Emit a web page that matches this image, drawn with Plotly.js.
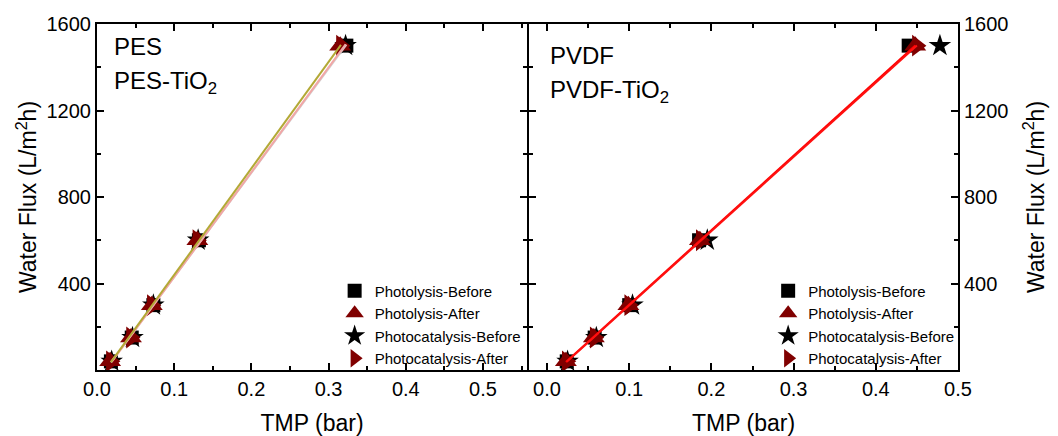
<!DOCTYPE html>
<html><head><meta charset="utf-8">
<script src="https://cdn.plot.ly/plotly-3.0.1.min.js"></script>
<style>html,body{margin:0;padding:0;background:#fff}#chart{width:1058px;height:436px}</style>
</head><body><div id="chart"></div>
<script>
// ---- data ----
const seriesNames = ['Photolysis-Before', 'Photolysis-After', 'Photocatalysis-Before', 'Photocatalysis-After'];
const waterFlux = [40, 150, 300, 600, 1500];            // L/m2h
// PES membranes: TMP (bar)
const pesPhotolysisBefore     = [0.018, 0.045, 0.073, 0.132, 0.323];
const pesPhotolysisAfter      = [0.017, 0.044, 0.071, 0.130, 0.315];
const pesPhotocatalysisBefore = [0.019, 0.046, 0.073, 0.131, 0.322];
const pesPhotocatalysisAfter  = [0.018, 0.044, 0.071, 0.130, 0.316];
// PVDF membranes: TMP (bar)
const pvdfPhotolysisBefore     = [0.024, 0.058, 0.100, 0.185, 0.440];
const pvdfPhotolysisAfter      = [0.023, 0.057, 0.099, 0.186, 0.448];
const pvdfPhotocatalysisBefore = [0.025, 0.060, 0.104, 0.195, 0.478];
const pvdfPhotocatalysisAfter  = [0.024, 0.058, 0.100, 0.187, 0.450];
const xTickVals = [0, 0.1, 0.2, 0.3, 0.4, 0.5];
const xTickText = ['0.0', '0.1', '0.2', '0.3', '0.4', '0.5'];
const yTickVals = [0, 400, 800, 1200, 1600];
const yTickText = ['', '400', '800', '1200', '1600'];

// ---- styling ----
const FONT = 'Arial, "Liberation Sans", sans-serif';
const DARKRED = '#800000';
const markerStyles = [
  {symbol: 'square', color: '#000000', size: 14},
  {symbol: 'triangle-up', color: DARKRED, size: 19},
  {symbol: 'star', color: '#000000', size: 17},
  {symbol: 'triangle-right', color: DARKRED, size: 19}
];
const drawOrder = [0, 2, 1, 3];

function linFit(xs, ys) {
  const n = xs.length;
  const mx = xs.reduce((a, b) => a + b, 0) / n;
  const my = ys.reduce((a, b) => a + b, 0) / n;
  let sxy = 0, sxx = 0;
  for (let i = 0; i < n; i++) { sxy += (xs[i] - mx) * (ys[i] - my); sxx += (xs[i] - mx) * (xs[i] - mx); }
  const b = sxy / sxx, a = my - b * mx;
  const x0 = Math.min(...xs), x1 = Math.max(...xs);
  return {x: [x0, x1], y: [a + b * x0, a + b * x1]};
}

const traces = [];
function addPanel(sets, xa, ya, legendId, fitSpec) {
  drawOrder.forEach(i => {
    const m = markerStyles[i];
    traces.push({
      type: 'scatter', mode: 'markers', name: seriesNames[i],
      x: sets[i], y: waterFlux, xaxis: xa, yaxis: ya,
      legend: legendId, legendrank: i + 1,
      marker: {symbol: m.symbol, color: m.color, size: m.size, line: {width: 0}}
    });
  });
  fitSpec.forEach(f => {
    const fl = linFit(sets[f.idx], waterFlux);
    traces.push({
      type: 'scatter', mode: 'lines', x: fl.x, y: fl.y, xaxis: xa, yaxis: ya,
      showlegend: false, hoverinfo: 'skip',
      line: {color: f.color, width: f.width}
    });
  });
}
addPanel([pesPhotolysisBefore, pesPhotolysisAfter, pesPhotocatalysisBefore, pesPhotocatalysisAfter],
  'x', 'y', 'legend',
  [{idx: 0, color: '#d0d0d0', width: 2}, {idx: 2, color: '#f2a6a6', width: 2}, {idx: 3, color: '#b3a936', width: 2}]);
addPanel([pvdfPhotolysisBefore, pvdfPhotolysisAfter, pvdfPhotocatalysisBefore, pvdfPhotocatalysisAfter],
  'x2', 'y2', 'legend2',
  [{idx: 1, color: '#ff0000', width: 2}, {idx: 3, color: '#ff1010', width: 2}]);

const axisCommon = {
  showline: true, linewidth: 2, linecolor: '#000', mirror: 'ticks',
  ticks: 'inside', ticklen: 7, tickwidth: 2, tickcolor: '#000',
  showgrid: false, zeroline: false,
  tickfont: {family: FONT, size: 20, color: '#000'}
};
const xMinor = {tickmode: 'array', tickvals: [0.05, 0.15, 0.25, 0.35, 0.45, 0.55], ticks: 'inside', ticklen: 4, tickwidth: 2, tickcolor: '#000', showgrid: false};
const yMinor = {tickmode: 'array', tickvals: [200, 600, 1000, 1400], ticks: 'inside', ticklen: 4, tickwidth: 2, tickcolor: '#000', showgrid: false};
const titleFont = {family: FONT, size: 23, color: '#000'};
const yTitle = 'Water Flux (L/m<sup>2</sup>h)';

const leftEnd = 430 / 861, rightStart = 432 / 861;
const layout = {
  width: 1058, height: 436,
  margin: {l: 97, r: 100, t: 24, b: 66},
  paper_bgcolor: '#fff', plot_bgcolor: '#fff',
  font: {family: FONT, color: '#000'},
  xaxis: Object.assign({}, axisCommon, {domain: [0, leftEnd], range: [0, 0.557], anchor: 'y',
    tickmode: 'array', tickvals: xTickVals, ticktext: xTickText, minor: xMinor,
    title: {text: 'TMP (bar)', font: titleFont, standoff: 18}}),
  yaxis: Object.assign({}, axisCommon, {domain: [0, 1], range: [0, 1600], anchor: 'x',
    tickmode: 'array', tickvals: yTickVals, ticktext: yTickText, minor: yMinor,
    title: {text: yTitle, font: titleFont, standoff: 3}}),
  xaxis2: Object.assign({}, axisCommon, {domain: [rightStart, 1], range: [-0.0219, 0.5], anchor: 'y2',
    tickmode: 'array', tickvals: xTickVals, ticktext: xTickText, minor: xMinor,
    title: {text: 'TMP (bar)', font: titleFont, standoff: 18}}),
  yaxis2: Object.assign({}, axisCommon, {domain: [0, 1], range: [0, 1600], anchor: 'x2', side: 'right',
    tickmode: 'array', tickvals: yTickVals, ticktext: yTickText, minor: yMinor,
    title: {text: yTitle, font: titleFont, standoff: 20}}),
  legend: {x: 0.276, y: 0.276, xanchor: 'left', yanchor: 'top', bgcolor: 'rgba(0,0,0,0)',
    font: {family: FONT, size: 15, color: '#000'}, tracegroupgap: 0},
  legend2: {x: 0.7795, y: 0.276, xanchor: 'left', yanchor: 'top', bgcolor: 'rgba(0,0,0,0)',
    font: {family: FONT, size: 15, color: '#000'}, tracegroupgap: 0},
  annotations: [
    {text: 'PES', xref: 'paper', yref: 'paper', x: 0.0174, y: 0.936, xanchor: 'left', yanchor: 'middle', showarrow: false, font: {family: FONT, size: 24, color: '#000'}},
    {text: 'PES-TiO<sub>2</sub>', xref: 'paper', yref: 'paper', x: 0.0174, y: 0.83, xanchor: 'left', yanchor: 'middle', showarrow: false, font: {family: FONT, size: 24, color: '#000'}},
    {text: 'PVDF', xref: 'paper', yref: 'paper', x: 0.5238, y: 0.91, xanchor: 'left', yanchor: 'middle', showarrow: false, font: {family: FONT, size: 24, color: '#000'}},
    {text: 'PVDF-TiO<sub>2</sub>', xref: 'paper', yref: 'paper', x: 0.5238, y: 0.805, xanchor: 'left', yanchor: 'middle', showarrow: false, font: {family: FONT, size: 24, color: '#000'}}
  ],
  showlegend: true
};
Plotly.newPlot('chart', traces, layout, {displayModeBar: false, staticPlot: true});
</script>
</body></html>
